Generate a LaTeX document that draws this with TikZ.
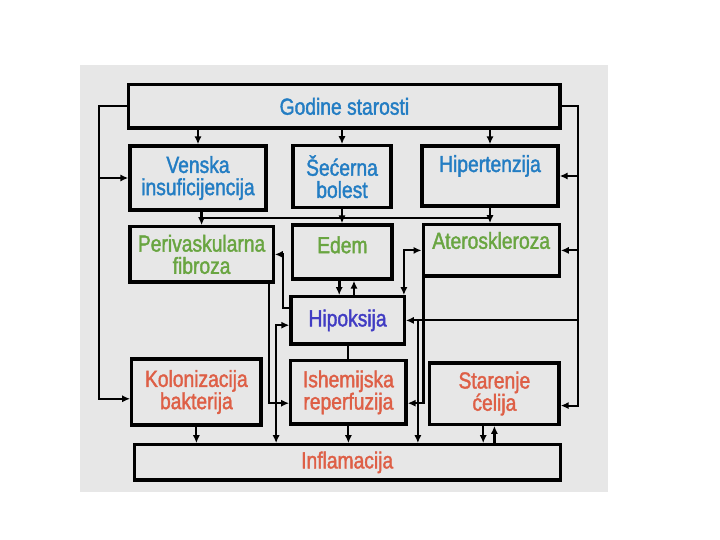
\documentclass[tikz,border=0pt]{standalone}
\usepackage{fontspec}
\setmainfont{Liberation Sans}[FakeStretch=0.83,FakeBold=1.6]
\usetikzlibrary{arrows.meta, positioning, calc}

\definecolor{panelgray}{RGB}{231,231,231}
\definecolor{ageblue}{RGB}{35,125,195}
\definecolor{leafgreen}{RGB}{105,165,65}
\definecolor{hypoviolet}{RGB}{65,60,195}
\definecolor{inflred}{RGB}{222,95,70}

\begin{document}
\begin{tikzpicture}[
    >={Latex[length=2mm,width=1.8mm]},
    font=\fontsize{16.5}{15.8}\selectfont,
    box/.style={draw, line width=2.4pt, fill=panelgray, align=center, inner sep=2pt},
    bluebox/.style={box, text=ageblue},
    greenbox/.style={box, text=leafgreen},
    violetbox/.style={box, text=hypoviolet},
    redbox/.style={box, text=inflred},
    arr/.style={->, line width=1.5pt},
    fatarr/.style={->, line width=2.2pt},
    twoway/.style={<->, line width=1.5pt},
    link/.style={line width=1.5pt}
]

\useasboundingbox (0,0) rectangle (18,13.5);
\fill[panelgray] (2.0,1.2) rectangle (15.2,11.875);

% ================= TOP ROW =================
\node[bluebox, minimum width=10.78cm, minimum height=1.08cm] (godine) at (8.61,10.84) {Godine starosti};

\node[bluebox, minimum width=3.4cm, minimum height=1.6cm] (venska) at (4.95,9.05) {Venska\\insuficijencija};
\node[bluebox, minimum width=2.45cm, minimum height=1.55cm] (secerna) at (8.55,9.08) {Šećerna\\bolest};
\node[box, minimum width=3.4cm, minimum height=1.5cm] (hipert) at (12.25,9.1) {};
\node[text=ageblue, anchor=base] (hipertT) at ($(hipert.center)+(0,0.1)$) {Hipertenzija};

% ================= MIDDLE ROWS =================
\node[greenbox, minimum width=3.58cm, minimum height=1.38cm] (periv) at (5.04,7.14) {Perivaskularna\\fibroza};
\node[box, minimum width=2.48cm, minimum height=1.35cm] (edem) at (8.56,7.2) {};
\node[text=leafgreen, anchor=base] (edemT) at ($(edem.center)+(0,-0.03)$) {Edem};
\node[box, minimum width=3.4cm, minimum height=1.28cm] (ateros) at (12.28,7.24) {};
\node[text=leafgreen, anchor=base] (aterosT) at ($(ateros.center)+(0,0.04)$) {Ateroskleroza};

\node[violetbox, minimum width=2.83cm, minimum height=1.18cm] (hipoks) at (8.69,5.49) {Hipoksija};

% ================= BOTTOM ROW =================
\node[redbox, minimum width=3.23cm, minimum height=1.65cm] (kolon) at (4.91,3.7) {Kolonizacija\\bakterija};
\node[redbox, minimum width=2.88cm, minimum height=1.58cm] (ishem) at (8.71,3.69) {Ishemijska\\reperfuzija};
\node[redbox, minimum width=3.23cm, minimum height=1.53cm] (staren) at (12.36,3.66) {Starenje\\ćelija};

\node[redbox, minimum width=10.65cm, minimum height=0.88cm] (inflam) at (8.68,1.94) {Inflamacija};

% ================= FROM GODINE STAROSTI =================
\draw[arr] (godine.south -| venska.north) -- (venska.north);
\draw[arr] (godine.south -| secerna.north) -- (secerna.north);
\draw[arr] (godine.south -| hipert.north) -- (hipert.north);

% left bus
\coordinate (lbus) at ($(godine.west)+(-0.7,0)$);
\coordinate (kolonIn) at ($(kolon.west)+(0,-0.17)$);
\draw[arr] (godine.west) -- (lbus) |- (kolonIn);
\draw[arr] (lbus |- venska.west) -- (venska.west);

% right bus
\coordinate (rbus) at ($(godine.east)+(0.4,0)$);
\coordinate (starenIn) at ($(staren.east)+(0,-0.3)$);
\draw[arr] (godine.east) -- (rbus) |- (starenIn);
\draw[arr] (rbus |- hipert.east) -- (hipert.east);
\draw[arr] (rbus |- ateros.east) -- (ateros.east);
\draw[arr] (rbus |- hipoks.east) -- (hipoks.east);

% ================= SECOND ROW LINKS =================
\coordinate (midrow) at ($(venska.south)!0.5!(periv.north)$);
\draw[fatarr] (periv.north |- venska.south) -- (periv.north);
\draw[link] (periv.north |- midrow) -- (hipert.south |- midrow);
\draw[arr] (hipert.south) -- (hipert.south |- ateros.north);
\draw[arr] (secerna.south) -- (secerna.south |- edem.north);

% Edem <-> Hipoksija
\coordinate (edemDn) at ($(edem.south)+(-0.08,0)$);
\coordinate (edemUp) at ($(edem.south)+(0.29,0)$);
\draw[fatarr] (edemDn) -- (edemDn |- hipoks.north);
\draw[arr] (edemUp |- hipoks.north) -- (edemUp);

% Hipoksija -> Perivaskularna fibroza
\coordinate (hipoksOut) at ($(hipoks.west)+(0,0.3)$);
\coordinate (perivBus) at ($(periv.east)+(0.2,0)$);
\draw[arr] (hipoksOut) -| (perivBus) -- (periv.east);

% Inflamacija <-> Hipoksija
\coordinate (hipoksIn) at ($(hipoks.west)+(0,-0.12)$);
\coordinate (inflBus) at ($(hipoks.west)+(-0.33,0)$);
\draw[twoway] (hipoksIn) -| (inflBus |- inflam.north);

% Perivaskularna fibroza -> Ishemijska reperfuzija
\coordinate (perivOut) at ($(periv.south east)+(-0.15,0)$);
\coordinate (ishemInL) at ($(ishem.west)+(0,-0.27)$);
\draw[arr] (perivOut) |- (ishemInL);

% Ateroskleroza <-> Hipoksija
\coordinate (hipoksTop) at ($(hipoks.north east)+(-0.05,0)$);
\draw[twoway] (hipoksTop) |- (ateros.west);

% Ateroskleroza -> Ishemijska reperfuzija
\coordinate (aterosOut) at ($(ateros.south west)+(0.05,0)$);
\coordinate (ishemInR) at ($(ishem.east)+(0,-0.27)$);
\draw[arr] (aterosOut) |- (ishemInR);

% right branch down to Inflamacija
\coordinate (hipoksBus) at ($(hipoks.east)+(0.3,0)$);
\draw[arr] (hipoksBus) -- (hipoksBus |- inflam.north);

\draw[link] (hipoks.south) -- (hipoks.south |- ishem.north);

% ================= INTO INFLAMACIJA =================
\draw[arr] (kolon.south) -- (kolon.south |- inflam.north);
\draw[arr] (ishem.south) -- (ishem.south |- inflam.north);
\coordinate (starenOut) at ($(staren.south)+(-0.28,0)$);
\draw[arr] (starenOut) -- (starenOut |- inflam.north);
\draw[fatarr] (staren.south |- inflam.north) -- (staren.south);

\end{tikzpicture}
\end{document}
